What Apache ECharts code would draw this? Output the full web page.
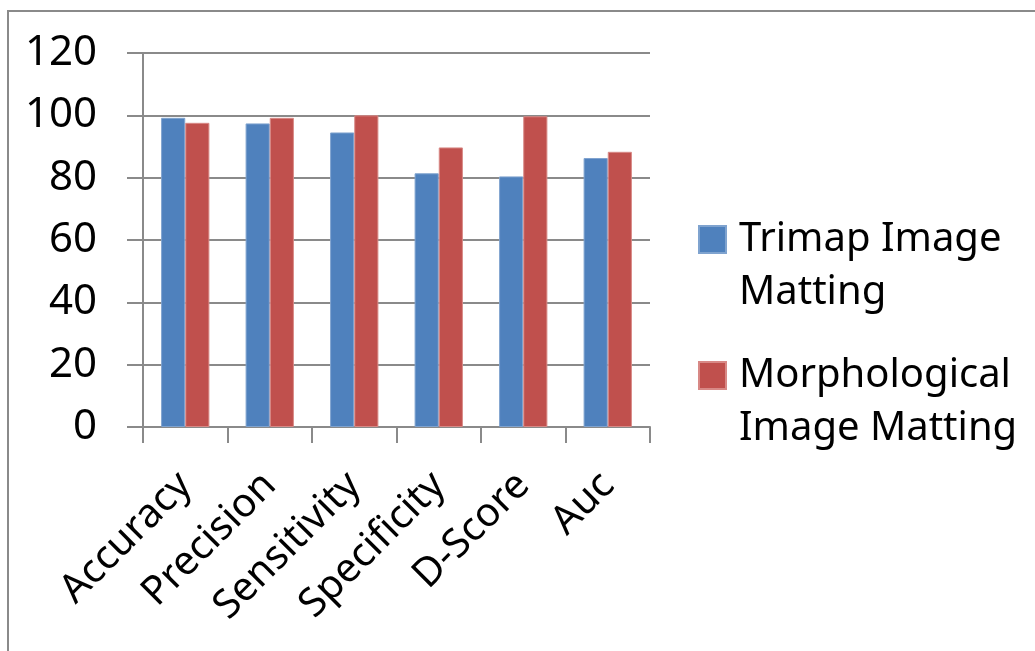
<!DOCTYPE html>
<html>
<head>
<meta charset="utf-8">
<script src="https://cdn.jsdelivr.net/npm/echarts@6/dist/echarts.min.js"></script>
<style>
  html, body { margin: 0; padding: 0; background: #fff; }
  #chart { width: 1035px; height: 651px; }
</style>
</head>
<body>
<div id="chart"></div>
<script>
// Metric names along the x axis
const categories = ['Accuracy', 'Precision', 'Sensitivity', 'Specificity', 'D-Score', 'Auc'];
// Scores (%) for each matting method
const trimapValues = [99.2, 97.4, 94.5, 81.4, 80.4, 86.3];
const morphValues = [97.6, 99.2, 100.0, 89.7, 99.7, 88.3];
// Series names
const trimapName = 'Trimap Image\nMatting';
const morphName = 'Morphological\nImage Matting';
// Value axis ticks
const yTicks = [0, 20, 40, 60, 80, 100, 120];

const FONT = '"Noto Sans", "Open Sans", sans-serif';
const GRAY = '#8a8a8a';

const chart = echarts.init(document.getElementById('chart'), null, { renderer: 'canvas' });

// Legend text: an empty leading line keeps the first line of the name level with the swatch
const legendBase = {
  orient: 'vertical',
  left: 698,
  padding: 0,
  itemWidth: 27,
  itemHeight: 27,
  icon: 'rect',
  selectedMode: false,
  formatter: name => '\n' + name.split('\n').map(s => '{t|' + s + '}').join('\n'),
  textStyle: {
    fontFamily: FONT,
    fontSize: 40,
    color: '#000',
    lineHeight: 53,
    rich: {
      t: {
        fontFamily: FONT,
        fontSize: 40,
        color: '#000',
        lineHeight: 53,
        padding: [0, 0, 0, 8]
      }
    }
  }
};

chart.setOption({
  animation: false,
  backgroundColor: '#fff',
  graphic: [{
    type: 'rect',
    shape: { x: 8, y: 11, width: 1100, height: 700 },
    style: { fill: 'none', stroke: GRAY, lineWidth: 2 },
    silent: true,
    z: -1
  }],
  grid: {
    left: 143, right: 385, top: 53, bottom: 224,
    containLabel: false,
    outerBoundsMode: 'none'
  },
  legend: [
    Object.assign({}, legendBase, { data: [trimapName], top: 160 }),
    Object.assign({}, legendBase, { data: [morphName], top: 296 })
  ],
  xAxis: {
    type: 'category',
    data: categories,
    boundaryGap: true,
    axisLine: { show: true, lineStyle: { color: GRAY, width: 2 } },
    axisTick: { show: true, length: 16, lineStyle: { color: GRAY, width: 2 } },
    axisLabel: {
      rotate: 45,
      margin: 52,
      interval: 0,
      fontFamily: FONT,
      fontSize: 40,
      color: '#000'
    }
  },
  yAxis: {
    type: 'value',
    min: yTicks[0],
    max: yTicks[yTicks.length - 1],
    interval: yTicks[1] - yTicks[0],
    axisLine: { show: true, lineStyle: { color: GRAY, width: 2 } },
    axisTick: { show: true, length: 16, lineStyle: { color: GRAY, width: 2 } },
    splitLine: { show: true, lineStyle: { color: GRAY, width: 2 } },
    axisLabel: {
      margin: 46,
      fontFamily: FONT,
      fontSize: 42,
      color: '#000'
    }
  },
  series: [{
    name: trimapName,
    type: 'bar',
    data: trimapValues,
    barGap: '0%',
    barCategoryGap: '42.86%',
    itemStyle: { color: '#4F81BD', borderColor: '#7fa3cf', borderWidth: 1 }
  }, {
    name: morphName,
    type: 'bar',
    data: morphValues,
    itemStyle: { color: '#C0504D', borderColor: '#d88986', borderWidth: 1 }
  }]
});
</script>
</body>
</html>
